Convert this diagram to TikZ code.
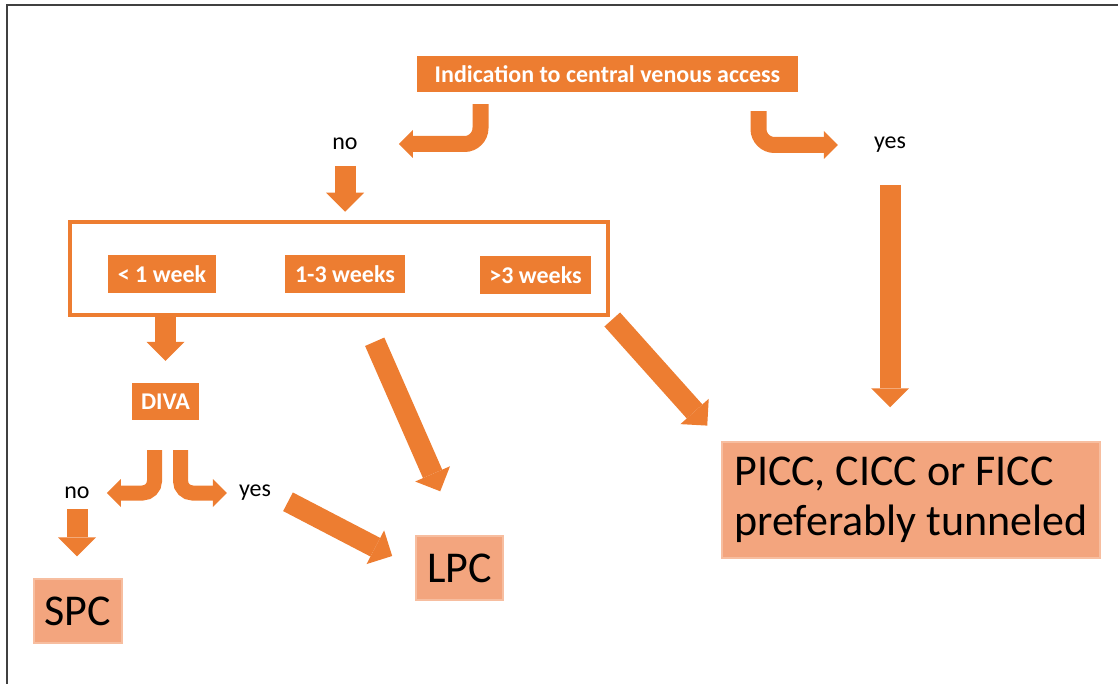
\documentclass[tikz,border=0pt]{standalone}
\usepackage{fontspec}
\setmainfont{Carlito}
\usepackage{xcolor}
\usetikzlibrary{arrows.meta}
\definecolor{orng}{RGB}{237,125,49}
\definecolor{salmon}{RGB}{243,165,126}
\definecolor{salmonline}{RGB}{247,190,160}

\begin{document}
\begin{tikzpicture}[x=1pt,y=-1pt,
	obox/.style={fill=orng, text=white, font=\bfseries\fontsize{24}{28}\selectfont, inner sep=0pt},
	rbox/.style={fill=salmon, draw=salmonline, line width=1.5pt, font=\fontsize{44}{50}\selectfont, inner sep=0pt},
	lbl/.style={font=\fontsize{24}{28}\selectfont, inner sep=0pt},
	fat/.style={draw=orng, line width=21pt, -{Triangle[width=38pt,length=19pt,line width=0pt]}},
	bent/.style={draw=orng, line width=16pt, rounded corners=16pt, -{Triangle[width=28pt,length=14pt,line width=0pt]}}]
				\useasboundingbox (0,0) rectangle (1118,684);
				\draw [black!75, line width=2pt] (7,684)--(7,5)--(1118,5);
				\node [obox, minimum width=381pt, minimum height=36pt] (ind) at (607.5,74){Indication to central venous access};
				\node [lbl] (no) at (345,144){no};
				\node [lbl] (yes) at (890,145){yes};
				\node [draw=orng, line width=4.5pt, minimum width=538pt, minimum height=93pt, inner sep=0pt] (frame) at (339,268.5){};
				\node [obox, minimum width=108pt, minimum height=38pt] (wk1) at (162,274){< 1 week};
				\node [obox, minimum width=120pt, minimum height=38pt] (wk2) at (345,274){1-3 weeks};
				\node [obox, minimum width=111pt, minimum height=38pt] (wk3) at (535.5,275){>3 weeks};
				\node [obox, minimum width=67pt, minimum height=37pt] (diva) at (165.5,401.5){DIVA};
				\node [lbl] (divano) at (77,493){no};
				\node [lbl] (divayes) at (255,493){yes};
				\node [rbox, minimum width=88pt, minimum height=64pt] (spc) at (78,611){SPC};
				\node [rbox, minimum width=87pt, minimum height=64pt] (lpc) at (459.5,568){LPC};
				\node [rbox, minimum width=378pt, minimum height=116pt, align=left] (picc) at (911,500){PICC, CICC or FICC\\preferably tunneled};
				\draw [bent, shorten <=12pt, shorten >=41pt] ([xshift=-127pt]ind.south) |- (no.east);
				\draw [bent, shorten <=19pt, shorten >=36pt] ([xshift=151pt]ind.south) |- (yes.west);
				\draw [fat, shorten <=22pt, shorten >=8pt] (no.center) -- (no.center |- frame.north);
				\draw [fat, shorten >=22pt] (diva.north |- frame.south) -- (diva.north);
				\draw [bent, rounded corners=12pt, line width=15pt, shorten <=30pt, shorten >=17pt] ([xshift=-11pt]diva.south) |- (divano.east);
				\draw [bent, rounded corners=12pt, line width=15pt, shorten <=30pt, shorten >=12pt] ([xshift=15pt]diva.south) |- (divayes.west);
				\draw [fat, shorten <=16pt, shorten >=22pt] (divano.center) -- (divano.center |- spc.north);
				\draw [fat, shorten <=19pt, shorten >=26pt] (divayes.east) -- (lpc.west);
				\draw [fat, shorten <=74pt, shorten >=48pt] (wk2.center) -- (lpc.north);
				\draw [fat, shorten <=3pt, shorten >=21pt] (frame.south east) -- (picc.north west);
				\draw [fat, shorten <=40pt, shorten >=34pt] (yes.center) -- (yes.center |- picc.north);
			\end{tikzpicture}
\end{document}
